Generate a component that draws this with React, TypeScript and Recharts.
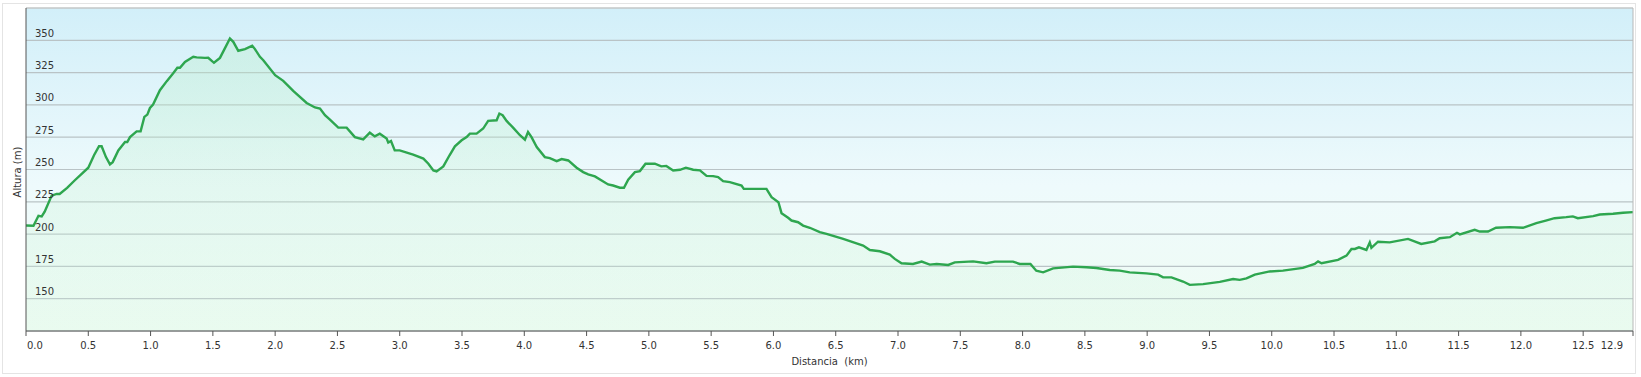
import React from 'react';
import { ComposedChart, Area, XAxis, YAxis, CartesianGrid, ReferenceLine } from 'recharts';

// perfil: distancia (km) y altura (m)
const distancia = [
  0, 0.06, 0.1, 0.126, 0.15, 0.206, 0.246, 0.27, 0.33, 0.39, 0.447, 0.5, 0.546, 0.586, 0.607, 0.642,
  0.674, 0.696, 0.741, 0.795, 0.813, 0.835, 0.888, 0.92, 0.95, 0.974, 0.995, 1.02, 1.075, 1.13, 1.18,
  1.215, 1.236, 1.276, 1.343, 1.37, 1.437, 1.463, 1.509, 1.557, 1.589, 1.637, 1.664, 1.704, 1.758,
  1.816, 1.838, 1.878, 1.905, 2.0, 2.065, 2.145, 2.253, 2.32, 2.36, 2.4, 2.44, 2.507, 2.574, 2.64,
  2.707, 2.76, 2.8, 2.84, 2.895, 2.908, 2.93, 2.96, 3.0, 3.108, 3.19, 3.23, 3.27, 3.296, 3.35, 3.4,
  3.443, 3.497, 3.537, 3.563, 3.617, 3.67, 3.71, 3.778, 3.8, 3.826, 3.858, 3.91, 3.965, 4.005, 4.03,
  4.058, 4.1, 4.165, 4.205, 4.26, 4.3, 4.353, 4.42, 4.473, 4.513, 4.567, 4.673, 4.713, 4.767, 4.8,
  4.834, 4.888, 4.928, 4.973, 5.048, 5.1, 5.14, 5.195, 5.25, 5.297, 5.356, 5.41, 5.463, 5.516, 5.556,
  5.596, 5.65, 5.744, 5.762, 5.837, 5.944, 5.985, 6.04, 6.065, 6.118, 6.145, 6.198, 6.238, 6.292,
  6.372, 6.426, 6.56, 6.667, 6.72, 6.774, 6.854, 6.934, 6.974, 7.028, 7.12, 7.19, 7.255, 7.31, 7.403,
  7.456, 7.603, 7.71, 7.777, 7.923, 7.977, 8.063, 8.11, 8.165, 8.245, 8.405, 8.513, 8.593, 8.7, 8.78,
  8.86, 8.994, 9.088, 9.128, 9.195, 9.288, 9.342, 9.449, 9.583, 9.69, 9.743, 9.797, 9.864, 9.984,
  10.09, 10.25, 10.345, 10.372, 10.4, 10.532, 10.6, 10.64, 10.667, 10.7, 10.76, 10.787, 10.8, 10.853,
  10.947, 11.094, 11.2, 11.308, 11.348, 11.43, 11.487, 11.51, 11.629, 11.67, 11.736, 11.8, 11.91,
  12.017, 12.124, 12.2, 12.27, 12.364, 12.417, 12.457, 12.58, 12.633, 12.74, 12.82, 12.9,
];

const altura = [
  206.6, 206.5, 214.2, 213.7, 217.4, 229.8, 231.1, 231, 235.8, 241.5, 246.7, 251.4, 261, 268.1, 268, 259.6,
  254, 255.7, 264.8, 271.3, 271.3, 275.1, 279.5, 279.5, 290.7, 292.5, 297.6, 300.3, 311.4, 318.4, 324.3,
  328.7, 328.7, 333.3, 337.2, 336.8, 336.4, 336.5, 332.6, 336.4, 342.4, 351.4, 348.8, 341.9, 343.2,
  345.8, 343.2, 337.2, 334.6, 323, 318.6, 310.8, 301.5, 298, 297.1, 292, 288.6, 282.4, 282.4, 275.1,
  273.3, 278.5, 275.6, 277.7, 273.9, 270.8, 272, 264.8, 264.8, 261.5, 258.4, 254.5, 249.3, 248.5, 252.4, 261,
  267.9, 272.6, 275.1, 277.8, 277.8, 281.7, 287.6, 288.1, 293.3, 292, 287.6, 282.4, 276.5, 273.1, 279,
  275.1, 267.4, 259.6, 258.8, 256.5, 258.1, 257, 251.4, 248, 246.2, 244.6, 238.4, 237.6, 235.9, 235.9,
  242.1, 248, 248.8, 254.5, 254.5, 252.4, 252.8, 249.3, 249.8, 251.4, 249.8, 249.3, 245.1, 244.9, 244.1,
  241, 240.2, 237.6, 235, 235, 235, 228.6, 224.7, 216.2, 212.6, 210.5, 209.2, 206.6, 204.9,
  201.5, 200.2, 196.3, 192.9, 191.1, 187.7, 186.7, 184.1, 180.8, 177.4, 176.9, 178.7, 176.4, 176.9, 176.1,
  178.1, 178.9, 177.4, 178.7, 178.7, 176.9, 176.9, 171.7, 170.4, 173.5, 174.8, 174.3, 173.8, 172.2, 171.7,
  170.4, 169.6, 168.6, 166.5, 166.5, 163.3, 160.7, 161.3, 163, 165.2, 164.6, 165.7, 168.6, 171.1,
  171.7, 173.8, 176.9, 178.9, 177.4, 180, 183.3, 188.5, 188.5, 189.8, 187.7, 193.6, 189.4, 194.1,
  193.6, 196.3, 192.4, 194.4, 196.8, 197.6, 201, 199.8, 203.3, 202, 202, 204.9, 205.4,
  204.9, 208.5, 210.5, 212.3, 213.1, 213.7, 212.3, 213.9, 215.2, 215.7, 216.5, 217,
];

const xTicks = [0, 0.5, 1, 1.5, 2, 2.5, 3, 3.5, 4, 4.5, 5, 5.5, 6, 6.5, 7, 7.5, 8, 8.5, 9, 9.5, 10, 10.5, 11, 11.5, 12, 12.5, 12.9];
const yTicks = [150, 175, 200, 225, 250, 275, 300, 325, 350];

const data = distancia.map((d, i) => ({ d, h: altura[i] }));

const W = 1641;
const H = 377;
const PLOT_LEFT = 26;
const PLOT_BOTTOM = 331;
const FONT = '"DejaVu Sans", Verdana, sans-serif';

const XTick = (props: any) => {
  const { x, payload, index } = props;
  const last = index === xTicks.length - 1;
  const first = index === 0;
  return (
    <g>
      <line x1={x} x2={x} y1={PLOT_BOTTOM} y2={PLOT_BOTTOM + 5} stroke="#555" />
      <text
        x={first ? x + 1 : last ? x - 10 : x}
        y={PLOT_BOTTOM + 18}
        textAnchor={first ? 'start' : last ? 'end' : 'middle'}
        fontSize={10}
        fontFamily={FONT}
        fill="#333"
      >
        {Number(payload.value).toFixed(1)}
      </text>
    </g>
  );
};

const YTick = (props: any) => {
  const { y, payload } = props;
  return (
    <text x={PLOT_LEFT + 9} y={y - 3.5} fontSize={10} fontFamily={FONT} fill="#333">
      {payload.value}
    </text>
  );
};

const App = () => {
  return (
    <div style={{ position: 'absolute', left: 0, top: 0, width: W, height: H, background: '#fff' }}>
      <div
        style={{
          position: 'absolute',
          left: 2,
          top: 3,
          width: 1634,
          height: 371,
          border: '1px solid #e4e4e4',
          boxSizing: 'border-box',
        }}
      />
      <div style={{ position: 'absolute', left: 0, top: 0 }}>
        <ComposedChart width={W} height={H} data={data} margin={{ top: 8, right: 8, bottom: 0, left: 0 }}>
          <defs>
            <linearGradient id="bg" x1="0" y1="0" x2="0" y2="1">
              <stop offset="0%" stopColor="#d2eff9" />
              <stop offset="55%" stopColor="#eefafc" />
              <stop offset="100%" stopColor="#effcf3" />
            </linearGradient>
            <linearGradient id="areaFill" x1="0" y1="0" x2="0" y2="1">
              <stop offset="0%" stopColor="#b4ecc4" stopOpacity={0.55} />
              <stop offset="100%" stopColor="#d4f6e0" stopOpacity={0.35} />
            </linearGradient>
          </defs>
          <CartesianGrid vertical={false} fill="url(#bg)" stroke="#b9c3c6" strokeWidth={1.2} />
          <ReferenceLine y={375} stroke="#c8c8c8" />
          <ReferenceLine x={12.9} stroke="#b8b8b8" />
          <Area
            type="linear"
            dataKey="h"
            stroke="#2ea64f"
            strokeWidth={2.4}
            fill="url(#areaFill)"
            isAnimationActive={false}
            dot={false}
            activeDot={false}
          />
          <XAxis
            dataKey="d"
            type="number"
            domain={[0, 12.9]}
            ticks={xTicks}
            interval={0}
            height={H - PLOT_BOTTOM}
            axisLine={{ stroke: '#555' }}
            tickLine={false}
            tick={<XTick />}
          />
          <YAxis
            type="number"
            domain={[125, 375]}
            ticks={yTicks}
            interval={0}
            width={PLOT_LEFT}
            axisLine={{ stroke: '#555' }}
            tickLine={false}
            tick={<YTick />}
          />
        </ComposedChart>
      </div>
      <div
        style={{
          position: 'absolute',
          left: PLOT_LEFT,
          width: 1633 - PLOT_LEFT,
          top: 356,
          textAlign: 'center',
          fontFamily: FONT,
          fontSize: 10,
          color: '#333',
          whiteSpace: 'pre',
        }}
      >
        {'Distancia  (km)'}
      </div>
      <div
        style={{
          position: 'absolute',
          left: 17,
          top: 172,
          transform: 'translate(-50%, -50%) rotate(-90deg)',
          fontFamily: FONT,
          fontSize: 10,
          color: '#333',
          whiteSpace: 'nowrap',
        }}
      >
        Altura (m)
      </div>
    </div>
  );
};

export default App;
